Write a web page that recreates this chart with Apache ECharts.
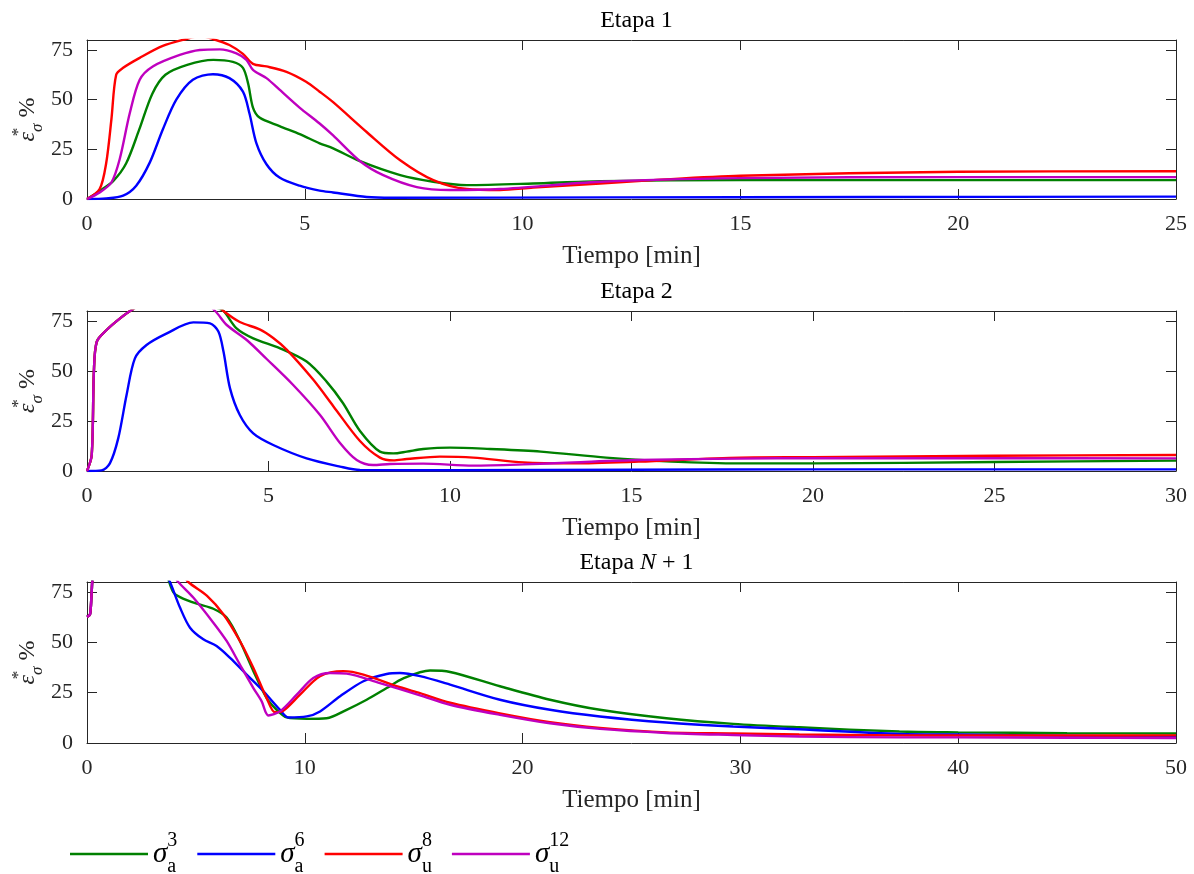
<!DOCTYPE html>
<html><head><meta charset="utf-8">
<script src="https://cdn.jsdelivr.net/npm/echarts/dist/echarts.min.js"></script>
<style>html,body{margin:0;padding:0;background:#fff}#c{width:1194px;height:874px}</style>
</head><body><div id="c"></div>
<script>
// ---------- data ----------
const titles = ['Etapa 1', 'Etapa 2', 'Etapa N + 1'];
const xMax = [25, 30, 50];
const xStep = [5, 5, 10];
const yMax = 80;
const yStep = 25;
const seriesNames = ['a3', 'a6', 'u8', 'u12'];
const seriesColors = ['#008000', '#0000ff', '#ff0000', '#bf00bf'];

// Etapa 1  [tiempo, valor]
const e1_a3 = [[0,0],[0.3,4.2],[0.6,9],[0.9,18],[1.2,35],[1.5,53],[1.8,62.5],[2.3,67.5],[2.9,70],[3.35,69],[3.58,66],[3.7,58],[3.81,46],[3.96,41],[4.42,36.7],[4.9,32.5],[5.34,28],[5.65,25.5],[6.27,19],[7.19,12],[7.95,8.7],[8.72,7],[10.24,7.8],[11.78,9],[15,9.5],[20,9.5],[25,9.5]];
const e1_a6 = [[0,0],[0.44,0.3],[0.83,1.7],[1.13,6.7],[1.44,18.3],[1.74,35],[2.05,50],[2.43,60],[2.89,62.8],[3.27,60.8],[3.58,54],[3.73,43],[3.89,28],[4.12,17.5],[4.42,10.8],[4.88,6.7],[5.34,4.2],[5.65,3.3],[6.42,1],[7,0.6],[12,0.8],[18,1],[25,1.2]];
const e1_u8 = [[0,0],[0.29,5],[0.44,18],[0.56,40],[0.67,62.5],[0.83,66],[1.21,71],[1.74,77],[2.28,80.5],[2.6,82],[2.89,80.5],[3.27,77.5],[3.58,73],[3.81,68],[4.12,66.7],[4.58,64],[5.03,59],[5.34,54],[5.65,48.7],[6.42,33.7],[7.19,19.5],[7.95,9.5],[8.72,5],[9.48,4.5],[10.24,5.7],[11.78,7.8],[13,9.5],[15,11.7],[20,13.7],[25,14]];
const e1_u12 = [[0,0],[0.29,3.3],[0.56,8.3],[0.75,20],[0.98,43],[1.21,60],[1.51,66.7],[2.13,72.5],[2.59,75],[3.05,75.3],[3.43,73.3],[3.66,70],[3.81,65],[4.12,60.8],[4.42,55],[4.88,46],[5.34,38],[5.65,32],[6.27,19],[6.8,12],[7.57,6],[8.33,4.5],[9.48,5],[11.78,8.7],[15,10.5],[20,11],[25,11]];

// Etapa 2
const e2_a3 = [[0,0],[0.13,8],[0.19,49.7],[0.27,64.7],[0.54,70.5],[0.91,76.3],[1.23,80.5],[2,88],[3,88],[3.53,82],[3.76,80],[4.12,71.3],[4.58,66.3],[5.32,61.3],[6.05,54.7],[6.6,44.7],[7.05,34],[7.52,20],[8.07,9.7],[8.44,8.8],[8.81,9.7],[9.26,11],[10,11.7],[11.1,11],[12.5,9.7],[14.3,6.7],[16.1,4.7],[18,3.8],[20,3.8],[25,4.5],[30,5.2]];
const e2_a6 = [[0,0],[0.4,0.3],[0.63,3.8],[0.86,16.3],[1.09,38],[1.32,56.3],[1.64,63],[2.2,68.8],[2.93,74.3],[3.39,73.8],[3.62,69.7],[3.76,59.7],[3.94,41.3],[4.21,28],[4.58,18.8],[5.13,13],[6.05,6.3],[6.97,2.2],[7.52,0.5],[10,0.4],[15,0.6],[20,0.8],[30,0.8]];
const e2_u8 = [[0,0],[0.13,8],[0.19,49.7],[0.27,64.7],[0.54,70.5],[0.91,76.3],[1.23,80.5],[2,88],[3,88],[3.53,84],[3.76,80],[4.21,74.5],[4.77,70.7],[5.13,66.5],[5.5,60.7],[6.23,45.7],[6.79,32.3],[7.52,15],[8.07,6.7],[8.44,5.3],[8.81,6],[9.72,7.2],[10.64,6.7],[12.02,4.3],[13.4,3.8],[15.2,4.7],[18,6.7],[20,6.9],[25,7.6],[30,8]];
const e2_u12 = [[0,0],[0.13,8],[0.19,49.7],[0.27,64.7],[0.54,70.5],[0.91,76.3],[1.23,80.5],[2,88],[3,88],[3.53,80],[3.85,73],[4.4,65.5],[4.95,56],[5.68,43],[6.42,28],[6.97,14],[7.43,5.5],[7.88,3],[8.35,3.5],[9.26,3.7],[10.64,2.7],[12.02,3.3],[13.4,4.3],[15.2,5.5],[18,6.2],[20,6.4],[25,6.4],[30,6.3]];

// Etapa N + 1
const e3_a3 = [[0,62.7],[0.14,64],[0.21,74],[0.32,85],[1,95],[3,95],[3.6,85],[3.96,75],[4.27,72.5],[5.04,69.2],[5.8,66.7],[6.41,62.3],[7.02,50.7],[7.64,35.7],[8.25,22.3],[8.71,16.5],[9.17,12.7],[10.09,12],[11,12.3],[11.92,16.5],[12.84,21.5],[13.76,27.3],[14.5,32],[15.75,36],[16.67,35.3],[18.96,28.2],[21.26,21.5],[23.55,16.5],[26.6,12.3],[29.67,9.5],[32.7,7.8],[37.3,5.7],[40,5.3],[45,4.9],[50,4.7]];
const e3_a6 = [[0,62.7],[0.14,64],[0.21,74],[0.32,85],[1,95],[3,95],[3.6,84],[3.81,80],[4.27,67.3],[4.73,57.3],[5.34,51.5],[5.95,48.2],[6.57,42.3],[7.33,34],[8.1,25.7],[8.86,16.5],[9.24,12.7],[10.09,13.2],[10.7,15.7],[11.62,23.2],[12.69,30.7],[13.76,34.3],[14.37,34.8],[15.29,33.2],[16.67,29],[18.96,21.5],[21.26,16.5],[23.55,13.2],[26.6,10.2],[29.67,8.2],[32.7,6.8],[37.3,4.5],[40,4.2],[45,3.6],[50,3.2]];
const e3_u8 = [[0,62.7],[0.14,64],[0.21,74],[0.32,85],[1,95],[3,95],[4.3,85],[4.65,80],[5.5,73.2],[6.26,64],[7.02,50.7],[7.64,37.3],[8.25,22.3],[8.63,15.3],[9.01,16],[9.78,24],[10.7,33.2],[11.77,35.7],[12.69,34],[14.37,27.7],[15.29,24.8],[16.67,20],[18.96,14.7],[21.26,10.3],[23.55,7.5],[26.6,5.3],[29.67,4.8],[32.7,4.2],[37.3,3.8],[40,3.7],[45,3.7],[50,3.8]];
const e3_u12 = [[0,62.7],[0.14,64],[0.21,74],[0.32,85],[1,95],[3,95],[4,83],[4.19,80],[4.88,72.3],[5.8,59.8],[6.41,50.7],[7.02,39],[7.64,27.3],[8.02,20.7],[8.33,13.7],[8.86,15.7],[9.63,24],[10.39,32.3],[11.16,34.8],[11.92,34.5],[13.45,29.8],[15.29,23.7],[16.67,19],[18.96,14],[21.26,9.8],[23.55,7],[26.6,5],[29.67,4],[32.7,3.2],[37.3,2.8],[40,2.8],[45,2.6],[50,2.5]];

const panels = [
  [e1_a3, e1_a6, e1_u8, e1_u12],
  [e2_a3, e2_a6, e2_u8, e2_u12],
  [e3_a3, e3_a6, e3_u8, e3_u12]
];

// ---------- layout / style ----------
const F = 'Liberation Serif';
const AX = '#262626';
const gridTops = [40, 311, 582];
const gridH = [159, 160, 161];
const gridLeft = 87, gridW = 1089;

const grids = [], xAxes = [], yAxes = [], series = [], titleArr = [];
const titleRich = {
  a: {fontFamily: F, fontSize: 24, color: '#000'},
  i: {fontFamily: F, fontSize: 24, fontStyle: 'italic', color: '#000'}
};
for (let g = 0; g < 3; g++) {
  grids.push({left: gridLeft, top: gridTops[g], width: gridW, height: gridH[g], containLabel: false,
    outerBoundsMode: 'none', show: false});
  const txt = g === 2 ? '{a|Etapa }{i|N}{a| + 1}' : '{a|' + titles[g] + '}';
  titleArr.push({text: txt, left: gridLeft + gridW / 2, textAlign: 'center', top: gridTops[g] - 36,
    textStyle: {rich: titleRich, fontFamily: F, fontSize: 24, fontWeight: 'normal', color: '#000'}});
}
// bottom x axes
for (let g = 0; g < 3; g++) {
  xAxes.push({type: 'value', gridIndex: g, min: 0, max: xMax[g], interval: xStep[g], position: 'bottom',
    name: 'Tiempo [min]', nameLocation: 'middle', nameGap: 45, nameMoveOverlap: false,
    nameTextStyle: {fontFamily: F, fontSize: 25, color: AX},
    axisLine: {show: true, onZero: false, lineStyle: {color: AX, width: 1}},
    axisTick: {show: true, inside: true, length: 10, lineStyle: {color: AX}},
    axisLabel: {show: true, fontFamily: F, fontSize: 22, color: AX, margin: 14, showMinLabel: true, showMaxLabel: true},
    splitLine: {show: false}});
}
// top x axes
for (let g = 0; g < 3; g++) {
  xAxes.push({type: 'value', gridIndex: g, min: 0, max: xMax[g], interval: xStep[g], position: 'top',
    axisLine: {show: true, onZero: false, lineStyle: {color: AX, width: 1}},
    axisTick: {show: true, inside: true, length: 10, lineStyle: {color: AX}},
    axisLabel: {show: false}, splitLine: {show: false}});
}
const yNameRich = {
  e: {fontFamily: F, fontSize: 24, fontStyle: 'italic', color: AX, lineHeight: 36},
  p: {fontFamily: F, fontSize: 17, color: AX, width: 0, verticalAlign: 'top'},
  b: {fontFamily: F, fontSize: 17, fontStyle: 'italic', color: AX, verticalAlign: 'bottom'},
  t: {fontFamily: F, fontSize: 24, color: AX, lineHeight: 36}
};
for (let g = 0; g < 3; g++) {
  yAxes.push({type: 'value', gridIndex: g, min: 0, max: yMax, interval: yStep, position: 'left',
    name: '{e|ε}{p|*}{b|σ}{t| %}', nameLocation: 'middle', nameGap: 41, nameRotate: 90, nameMoveOverlap: false,
    nameTextStyle: {rich: yNameRich, fontFamily: F, fontSize: 24, color: AX},
    axisLine: {show: true, onZero: false, lineStyle: {color: AX, width: 1}},
    axisTick: {show: true, inside: true, length: 10, lineStyle: {color: AX}},
    axisLabel: {show: true, fontFamily: F, fontSize: 22, color: AX, margin: 14, showMaxLabel: false},
    splitLine: {show: false}});
}
for (let g = 0; g < 3; g++) {
  yAxes.push({type: 'value', gridIndex: g, min: 0, max: yMax, interval: yStep, position: 'right',
    axisLine: {show: true, onZero: false, lineStyle: {color: AX, width: 1}},
    axisTick: {show: true, inside: true, length: 10, lineStyle: {color: AX}},
    axisLabel: {show: false}, splitLine: {show: false}});
}
for (let g = 0; g < 3; g++) {
  for (let s = 0; s < 4; s++) {
    series.push({type: 'line', name: seriesNames[s], xAxisIndex: g, yAxisIndex: g,
      data: panels[g][s], showSymbol: false, symbol: 'none', smooth: 0.3, clip: true,
      lineStyle: {color: seriesColors[s], width: 2.4}, itemStyle: {color: seriesColors[s]},
      animation: false, silent: true});
  }
}
const legendLabel = {a3: ['3', 'a'], a6: ['6', 'a'], u8: ['8', 'u'], u12: ['12', 'u']};
const option = {
  backgroundColor: '#fff',
  animation: false,
  title: titleArr,
  grid: grids,
  xAxis: xAxes,
  yAxis: yAxes,
  legend: {
    data: seriesNames, left: 65, top: 826, itemWidth: 78, itemHeight: 2.4, itemGap: 20,
    icon: 'rect', selectedMode: false,
    formatter: function (n) { const l = legendLabel[n]; return '{s|σ}{p|' + l[0] + '}{b|' + l[1] + '}'; },
    textStyle: {color: '#000', padding: [0, 0, 0, 0], rich: {
      s: {fontFamily: F, fontSize: 29, fontStyle: 'italic', color: '#000', lineHeight: 46},
      p: {fontFamily: F, fontSize: 20, color: '#000', width: 0, verticalAlign: 'top'},
      b: {fontFamily: F, fontSize: 20, color: '#000', verticalAlign: 'bottom'}
    }}
  },
  series: series
};
const chart = echarts.init(document.getElementById('c'), null, {renderer: 'canvas'});
chart.setOption(option);
</script>
</body></html>
